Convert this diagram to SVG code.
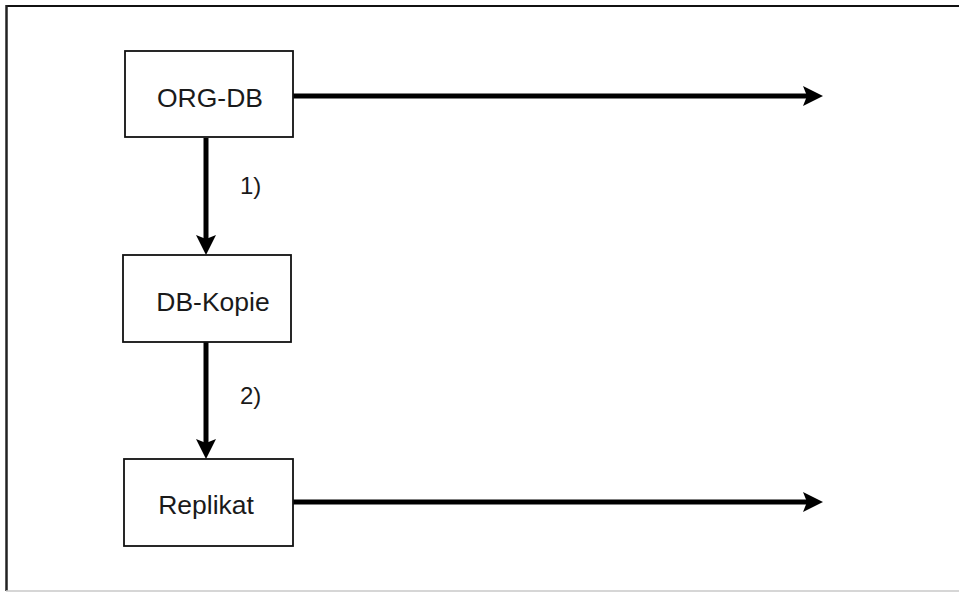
<svg xmlns="http://www.w3.org/2000/svg" width="959" height="593" viewBox="0 0 959 593">
<style>
.box{fill:#fff;stroke:#111;stroke-width:1.8}
.lbl{font-family:"Liberation Sans",Arial,sans-serif;font-size:26.5px;fill:#1a1a1a;text-anchor:middle}
.num{font-family:"Liberation Sans",Arial,sans-serif;font-size:24px;fill:#1a1a1a}
.con{stroke:#000;stroke-width:5;fill:none}
</style>
<defs>
<marker id="ah" markerUnits="userSpaceOnUse" markerWidth="22" markerHeight="22" refX="4" refY="10" orient="auto">
<path d="M0,0 L20,10 L0,20 L4,10 Z" fill="#000"/>
</marker>
</defs>
<rect x="0" y="0" width="959" height="593" fill="#fff"/>
<g id="frame">
<line x1="6.5" y1="6" x2="959" y2="6" stroke="#111" stroke-width="2.2"/>
<line x1="6.5" y1="5" x2="6.5" y2="591" stroke="#222" stroke-width="2.5"/>
<line x1="6" y1="591" x2="959" y2="591" stroke="#c8c8c8" stroke-width="1.5"/>
</g>
<g id="connectors">
<line class="con" x1="293" y1="96" x2="807" y2="96" marker-end="url(#ah)"/>
<line class="con" x1="293" y1="502" x2="807" y2="502" marker-end="url(#ah)"/>
<line class="con" x1="206" y1="138" x2="206" y2="239" marker-end="url(#ah)"/>
<line class="con" x1="206" y1="342" x2="206" y2="443" marker-end="url(#ah)"/>
<text class="num" x="240" y="194">1)</text>
<text class="num" x="240" y="404">2)</text>
</g>
<g id="org-db">
<rect class="box" x="125" y="51" width="168" height="86"/>
<text class="lbl" x="210" y="107">ORG-DB</text>
</g>
<g id="db-kopie">
<rect class="box" x="123" y="255" width="168" height="87"/>
<text class="lbl" x="213" y="311">DB-Kopie</text>
</g>
<g id="replikat">
<rect class="box" x="124" y="459" width="169" height="87"/>
<text class="lbl" x="206" y="514">Replikat</text>
</g>
</svg>
